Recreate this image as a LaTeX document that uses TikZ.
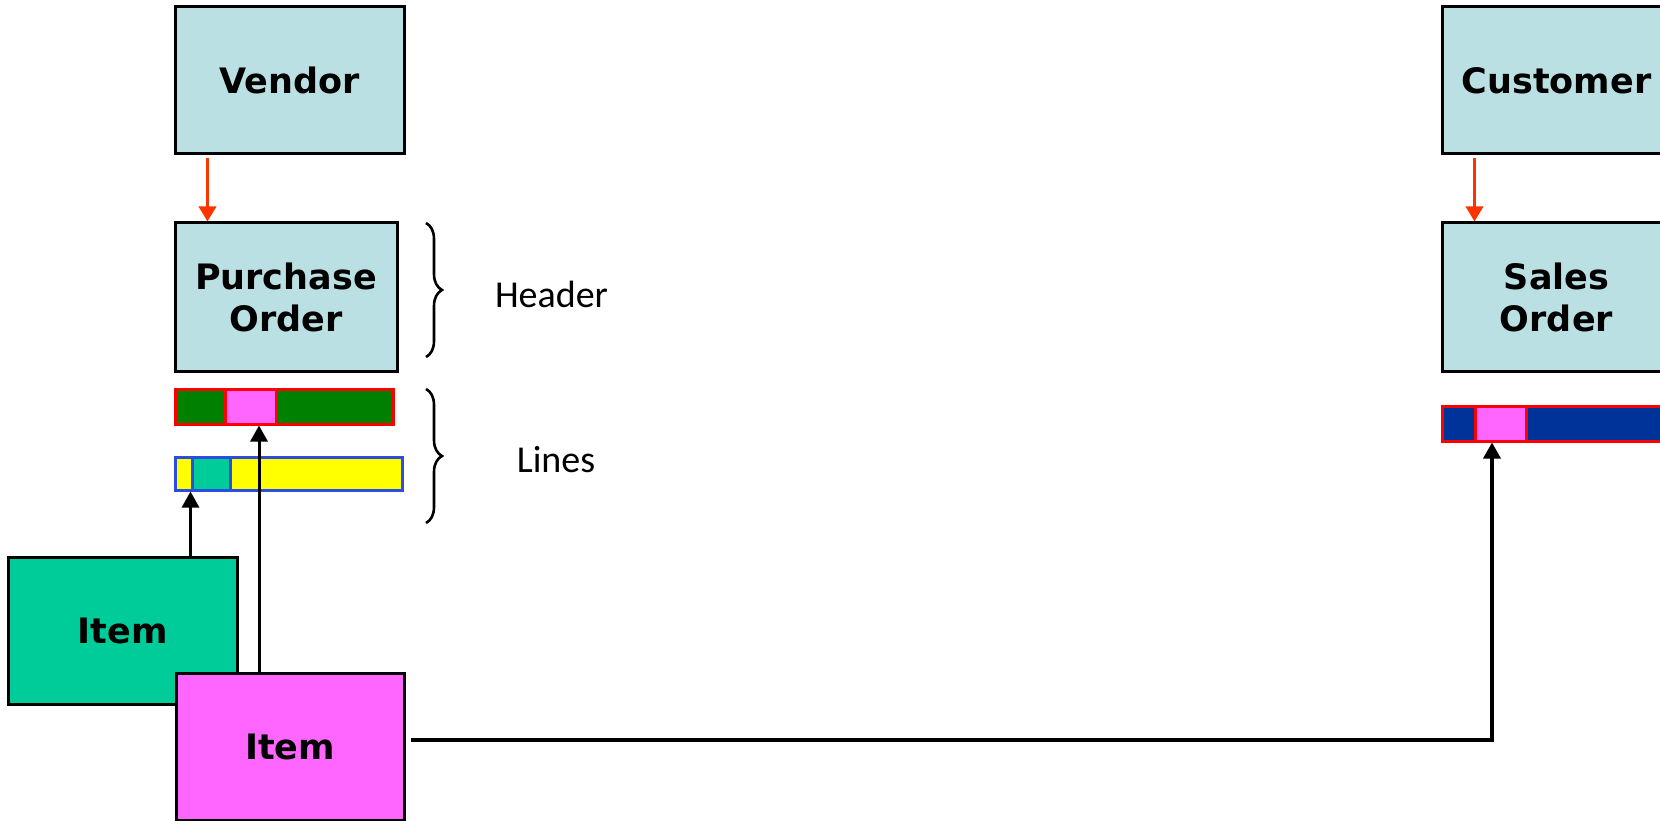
\documentclass[tikz,border=0pt]{standalone}
\usepackage{fontspec}
\setmainfont{DejaVu Sans}
\newfontfamily\labelfont{Carlito}
\usetikzlibrary{arrows.meta,decorations.pathreplacing}
\definecolor{boxblue}{HTML}{BBE0E3}
\definecolor{tealc}{HTML}{00CC99}
\definecolor{pinkc}{HTML}{FF66FF}
\definecolor{greenc}{HTML}{008000}
\definecolor{yellowc}{HTML}{FFFF00}
\definecolor{navyc}{HTML}{003399}
\definecolor{redc}{HTML}{FF0000}
\definecolor{arrowred}{HTML}{FF3300}
\definecolor{bluec}{HTML}{2A4FE0}
\tikzset{
  entity/.style={draw=black, line width=3pt, minimum width=229pt, minimum height=147pt,
    inner sep=0pt, align=center, font=\fontsize{35}{42}\selectfont\bfseries},
  barbox/.style={draw=redc, line width=3pt, minimum height=35pt, inner sep=0pt},
  ybarbox/.style={draw=bluec, line width=3pt, minimum height=33pt, inner sep=0pt},
  redarrow/.style={draw=arrowred, line width=3.5pt, -{Triangle[width=17pt,length=15pt]}},
  blkarrow/.style={draw=black, line width=3pt, -{Triangle[width=17pt,length=16pt]}},
  bracestyle/.style={draw=black, line width=2.6pt, decorate, decoration={brace, amplitude=16pt}},
  lbl/.style={font=\labelfont\fontsize{38}{44}\selectfont, anchor=base, inner sep=0pt}
}
\begin{document}
\begin{tikzpicture}[x=1pt,y=-1pt]
\useasboundingbox (0,0) rectangle (1660,821);
\clip (0,0) rectangle (1660,821);
% left side
\node[entity, fill=boxblue] (vendor) at (289.5,80.5) {Vendor};
\node[entity, fill=boxblue, minimum width=222pt, minimum height=148pt] (po) at (286,297) {Purchase\\Order};
\node[barbox, fill=greenc, minimum width=218pt] (gbar) at (284,406.5) {};
\node[barbox, fill=pinkc, minimum width=51pt] (psub) at (250.5,406.5) {};
\node[ybarbox, fill=yellowc, minimum width=227pt] (ybar) at (288.5,473.5) {};
\node[ybarbox, fill=tealc, minimum width=38pt] (tsub) at (211,473.5) {};
\node[entity, fill=tealc] (itemA) at (122.5,630.5) {Item};
\node[entity, fill=pinkc, minimum width=228pt] (itemB) at (290,746.5) {Item};
% right side
\node[entity, fill=boxblue] (customer) at (1556.5,80.5) {Customer};
\node[entity, fill=boxblue, minimum height=148pt] (so) at (1556.5,297) {Sales\\Order};
\node[barbox, fill=navyc, minimum width=222pt] (sbar) at (1553,423.5) {};
\node[barbox, fill=pinkc, minimum width=51pt] (ssub) at (1500.5,423.5) {};
% braces and labels
\coordinate (b1t) at (426,223);
\coordinate (b1b) at (426,357);
\coordinate (b2t) at (426,389);
\coordinate (b2b) at (426,523);
\draw[bracestyle] (b1t) -- (b1b);
\draw[bracestyle] (b2t) -- (b2b);
\node[lbl] (header) at (551.5,307) {Header};
\node[lbl] (lines) at (556,472) {Lines};
% connectors
\draw[redarrow] ([xshift=34pt,yshift=-3pt]vendor.south west) -- ([xshift=34pt]po.north west);
\draw[redarrow] ([xshift=34pt,yshift=-3pt]customer.south west) -- ([xshift=34pt]so.north west);
\draw[blkarrow] (itemA.north -| tsub.west) -- (ybar.south -| tsub.west);
\draw[blkarrow] ([xshift=-31pt]itemB.north) -- ([xshift=-31pt]itemB.north |- gbar.south);
\draw[blkarrow, line width=3.4pt] ([xshift=5pt,yshift=6.5pt]itemB.east) -| ([xshift=-8.5pt]ssub.south);
\end{tikzpicture}
\end{document}
